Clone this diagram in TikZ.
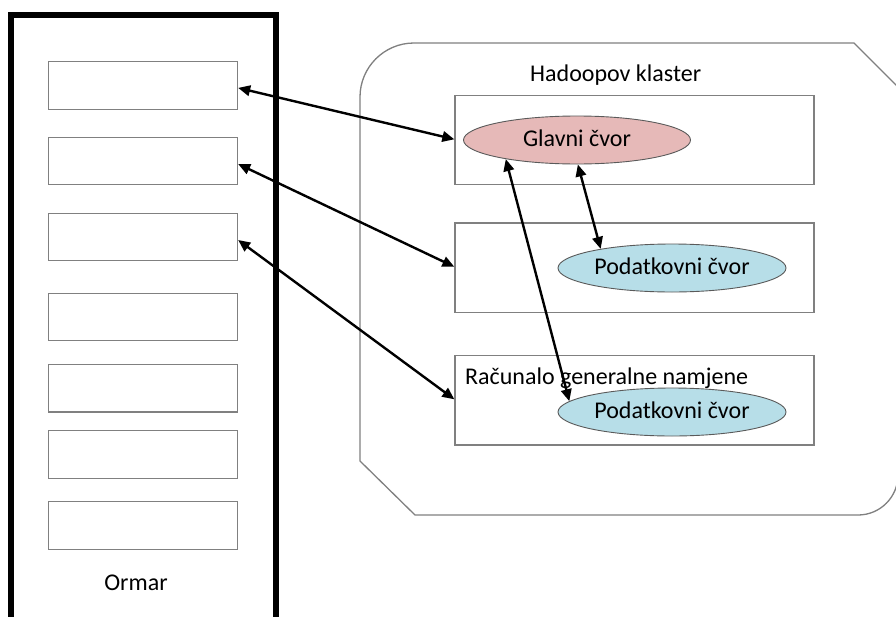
\documentclass[tikz,border=0pt]{standalone}
\usepackage{fontspec}
\setmainfont{Carlito}
\usetikzlibrary{shapes.geometric,arrows.meta}
\definecolor{edgegray}{HTML}{808080}
\definecolor{ellgray}{HTML}{5A5A5A}
\definecolor{masterpink}{HTML}{E6B9B8}
\definecolor{datablue}{HTML}{B7DEE8}
\tikzset{
  lbl/.style={font=\fontsize{24}{28}\selectfont, inner sep=0pt, text=black},
  rackbox/.style={draw=black, line width=5.5pt, rectangle, inner sep=0pt, minimum width=265pt, minimum height=640pt},
  slotbox/.style={draw=edgegray, line width=1.3pt, rectangle, inner sep=0pt, minimum width=189pt, minimum height=47.5pt},
  hostbox/.style={draw=edgegray, line width=1.3pt, rectangle, inner sep=0pt, minimum width=359pt, minimum height=89.5pt},
  nodeell/.style={ellipse, draw=ellgray, line width=0.9pt, inner sep=0pt, minimum width=227pt, minimum height=48pt,
                  font=\fontsize{24}{28}\selectfont, text height=18pt, text depth=6pt},
  cluster/.style={draw=edgegray, line width=1.3pt},
  link/.style={draw=black, line width=2.4pt, {Triangle[length=12pt,width=10.5pt]}-{Triangle[length=12pt,width=10.5pt]}}
}
\begin{document}
\begin{tikzpicture}[x=1pt,y=-1pt]
\useasboundingbox[fill=white] (0,0) rectangle (896,616);

% rack
\node[rackbox] (rack) at (143.5,335) {};
\node[slotbox] (s1) at (143,85.4) {};
\node[slotbox] (s2) at (143,161) {};
\node[slotbox] (s3) at (143,237) {};
\node[slotbox] (s4) at (143,317) {};
\node[slotbox] (s5) at (143,388.3) {};
\node[slotbox] (s6) at (143,454.5) {};
\node[slotbox] (s7) at (143,525.4) {};
\node[lbl, anchor=base] (ormar) at (136,590) {Ormar};

% cluster outline
\draw[cluster] (360,461) -- (360,97) .. controls (360,67.2) and (384.2,43) .. (414,43)
  -- (854,43) -- (898,87) -- (898,475) .. controls (898,497.1) and (880.1,515) .. (858,515)
  -- (415,515) -- cycle;
\node[lbl, anchor=base] (title) at (615.7,81.7) {Hadoopov klaster};

% hosts
\node[hostbox] (h1) at (634.5,140) {};
\node[hostbox] (h2) at (634.5,267.8) {};
\node[hostbox] (h3) at (634.5,400.3) {};
\node[lbl, anchor=base west] (gp) at (465,384) {Računalo generalne namjene};

% daemons
\node[nodeell, fill=masterpink] (master) at (577,140) {Glavni čvor};
\node[nodeell, fill=datablue, minimum width=228pt] (d1) at (672,268) {Podatkovni čvor};
\node[nodeell, fill=datablue, minimum width=228pt] (d2) at (672,412) {Podatkovni čvor};

% connectors
\draw[link] ([yshift=-2.5pt]s1.east) -- ([yshift=0.7pt]h1.west);
\draw[link] ([yshift=-3pt]s2.east) -- ([yshift=1pt]h2.west);
\draw[link] ([yshift=-3pt]s3.east) -- ([yshift=1pt]h3.west);
\draw[link] (master.-88) -- (d1.165);
\draw[link] (master.195.8) -- (d2.174.5);
\end{tikzpicture}
\end{document}
